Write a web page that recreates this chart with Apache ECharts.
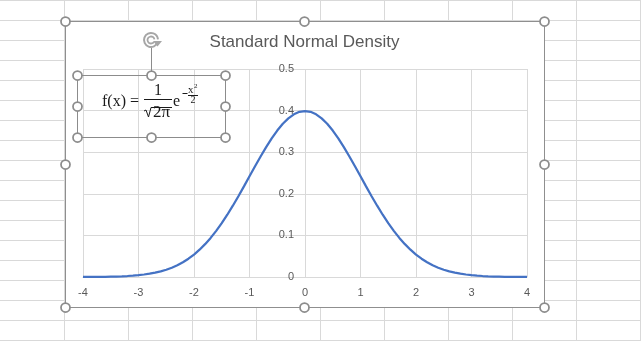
<!DOCTYPE html>
<html>
<head>
<meta charset="utf-8">
<script src="https://cdn.jsdelivr.net/npm/echarts@6/dist/echarts.min.js"></script>
<style>
html, body { margin: 0; padding: 0; background: #ffffff; }
#chart { width: 641px; height: 341px; }
</style>
</head>
<body>
<div id="chart"></div>
<script>
// x positions of the plotted points
const xValues = [
  -4.0, -3.9, -3.8, -3.7, -3.6, -3.5, -3.4, -3.3, -3.2, -3.1,
  -3.0, -2.9, -2.8, -2.7, -2.6, -2.5, -2.4, -2.3, -2.2, -2.1,
  -2.0, -1.9, -1.8, -1.7, -1.6, -1.5, -1.4, -1.3, -1.2, -1.1,
  -1.0, -0.9, -0.8, -0.7, -0.6, -0.5, -0.4, -0.3, -0.2, -0.1,
   0.0,
   0.1,  0.2,  0.3,  0.4,  0.5,  0.6,  0.7,  0.8,  0.9,  1.0,
   1.1,  1.2,  1.3,  1.4,  1.5,  1.6,  1.7,  1.8,  1.9,  2.0,
   2.1,  2.2,  2.3,  2.4,  2.5,  2.6,  2.7,  2.8,  2.9,  3.0,
   3.1,  3.2,  3.3,  3.4,  3.5,  3.6,  3.7,  3.8,  3.9,  4.0
];

// density values at each x
const density = [
  0.0001, 0.0002, 0.0003, 0.0004, 0.0006, 0.0009, 0.0012, 0.0017, 0.0024, 0.0033,
  0.0044, 0.0060, 0.0079, 0.0104, 0.0136, 0.0175, 0.0224, 0.0283, 0.0355, 0.0440,
  0.0540, 0.0656, 0.0790, 0.0940, 0.1109, 0.1295, 0.1497, 0.1714, 0.1942, 0.2179,
  0.2420, 0.2661, 0.2897, 0.3123, 0.3332, 0.3521, 0.3683, 0.3814, 0.3910, 0.3970,
  0.3989,
  0.3970, 0.3910, 0.3814, 0.3683, 0.3521, 0.3332, 0.3123, 0.2897, 0.2661, 0.2420,
  0.2179, 0.1942, 0.1714, 0.1497, 0.1295, 0.1109, 0.0940, 0.0790, 0.0656, 0.0540,
  0.0440, 0.0355, 0.0283, 0.0224, 0.0175, 0.0136, 0.0104, 0.0079, 0.0060, 0.0044,
  0.0033, 0.0024, 0.0017, 0.0012, 0.0009, 0.0006, 0.0004, 0.0003, 0.0002, 0.0001
];

const chartTitle = 'Standard Normal Density';
const xRange = [-4, 4];
const yRange = [0, 0.5];

const seriesData = xValues.map((x, i) => [x, density[i]]);

const W = 641, H = 341;
const plot = { left: 83, top: 69, width: 444, height: 208 };
// the vertical axis sits where x = 0
const yAxisShift = -plot.width * (0 - xRange[0]) / (xRange[1] - xRange[0]);

const sheetLine = '#d9d9d9';
const handleStroke = '#8c8c8c';
const eqColor = '#1a1a1a';
const eqFont = '"Liberation Serif", "DejaVu Serif", serif';

const graphics = [];

// worksheet cell grid behind the chart
for (let x = 64.5; x < W; x += 64) {
  graphics.push({ type: 'line', z: -20, silent: true,
    shape: { x1: x, y1: 0, x2: x, y2: H }, style: { stroke: sheetLine, lineWidth: 1 } });
}
for (let y = 0.5; y < H; y += 20) {
  graphics.push({ type: 'line', z: -20, silent: true,
    shape: { x1: 0, y1: y, x2: W, y2: y }, style: { stroke: sheetLine, lineWidth: 1 } });
}

// chart area with its frame
graphics.push({ type: 'rect', z: -10, silent: true,
  shape: { x: 65.5, y: 21.5, width: 479, height: 286 },
  style: { fill: '#ffffff', stroke: '#8f8f8f', lineWidth: 1 } });

// chart title
graphics.push({ type: 'text', z: 5, silent: true, x: 304.5, y: 42,
  style: { text: chartTitle, fill: '#595959', font: '17px "Liberation Sans", Arial, sans-serif',
    align: 'center', verticalAlign: 'middle' } });

function handle(cx, cy) {
  graphics.push({ type: 'circle', z: 30, silent: true,
    shape: { cx: cx, cy: cy, r: 4.5 },
    style: { fill: '#ffffff', stroke: handleStroke, lineWidth: 1.75 } });
}

// text box frame
graphics.push({ type: 'rect', z: 20, silent: true,
  shape: { x: 77.5, y: 75.5, width: 148, height: 62 },
  style: { fill: 'transparent', stroke: handleStroke, lineWidth: 1 } });

// rotate stem and icon
graphics.push({ type: 'line', z: 20, silent: true,
  shape: { x1: 151.5, y1: 48, x2: 151.5, y2: 72 }, style: { stroke: handleStroke, lineWidth: 1 } });
graphics.push({ type: 'arc', z: 21, silent: true,
  shape: { cx: 151, cy: 40, r: 7, startAngle: 0.35, endAngle: Math.PI * 2 - 0.1, clockwise: true },
  style: { fill: 'none', stroke: '#a6a6a6', lineWidth: 2 } });
graphics.push({ type: 'arc', z: 21, silent: true,
  shape: { cx: 151, cy: 40, r: 3.5, startAngle: 0.6, endAngle: Math.PI * 2 - 0.2, clockwise: true },
  style: { fill: 'none', stroke: '#a6a6a6', lineWidth: 1.8 } });
graphics.push({ type: 'polygon', z: 21, silent: true,
  shape: { points: [[153, 41], [162, 41], [157.5, 46.5]] },
  style: { fill: '#a6a6a6' } });

// equation: f(x) = 1/sqrt(2 pi) e^(-x^2/2)
graphics.push({ type: 'text', z: 25, silent: true, x: 102, y: 102,
  style: { text: 'f(x) =', fill: eqColor, font: '16px ' + eqFont, align: 'left', verticalAlign: 'middle' } });
graphics.push({ type: 'text', z: 25, silent: true, x: 158, y: 91,
  style: { text: '1', fill: eqColor, font: '16px ' + eqFont, align: 'center', verticalAlign: 'middle' } });
graphics.push({ type: 'line', z: 25, silent: true,
  shape: { x1: 144, y1: 99.5, x2: 172, y2: 99.5 }, style: { stroke: eqColor, lineWidth: 1 } });
graphics.push({ type: 'polyline', z: 25, silent: true,
  shape: { points: [[144, 111], [146, 110], [148.5, 117], [151, 107.5], [172, 107.5]] },
  style: { fill: 'none', stroke: eqColor, lineWidth: 1 } });
graphics.push({ type: 'text', z: 25, silent: true, x: 161.5, y: 112.5,
  style: { text: '2π', fill: eqColor, font: '17px ' + eqFont, align: 'center', verticalAlign: 'middle' } });
graphics.push({ type: 'text', z: 25, silent: true, x: 173, y: 102,
  style: { text: 'e', fill: eqColor, font: '16px ' + eqFont, align: 'left', verticalAlign: 'middle' } });
graphics.push({ type: 'line', z: 25, silent: true,
  shape: { x1: 182.5, y1: 93.5, x2: 187.5, y2: 93.5 }, style: { stroke: eqColor, lineWidth: 1 } });
graphics.push({ type: 'text', z: 25, silent: true, x: 188, y: 90,
  style: { text: 'x', fill: eqColor, font: '11px ' + eqFont, align: 'left', verticalAlign: 'middle' } });
graphics.push({ type: 'text', z: 25, silent: true, x: 194, y: 86.5,
  style: { text: '2', fill: eqColor, font: '7px ' + eqFont, align: 'left', verticalAlign: 'middle' } });
graphics.push({ type: 'line', z: 25, silent: true,
  shape: { x1: 188, y1: 95.5, x2: 198, y2: 95.5 }, style: { stroke: eqColor, lineWidth: 1 } });
graphics.push({ type: 'text', z: 25, silent: true, x: 193, y: 100.5,
  style: { text: '2', fill: eqColor, font: '10px ' + eqFont, align: 'center', verticalAlign: 'middle' } });

// selection handles: chart area, then text box
[[65.5, 21.5], [304.5, 21.5], [544.5, 21.5], [65.5, 164.5], [544.5, 164.5],
 [65.5, 307.5], [304.5, 307.5], [544.5, 307.5]].forEach(p => handle(p[0], p[1]));
[[77.5, 75.5], [151.5, 75.5], [225.5, 75.5], [77.5, 106.5], [225.5, 106.5],
 [77.5, 137.5], [151.5, 137.5], [225.5, 137.5]].forEach(p => handle(p[0], p[1]));

const axisLabelStyle = { color: '#595959', fontSize: 11, fontFamily: '"Liberation Sans", Arial, sans-serif' };

const chart = echarts.init(document.getElementById('chart'), null, { renderer: 'canvas' });
chart.setOption({
  animation: false,
  backgroundColor: '#ffffff',
  grid: {
    left: plot.left, top: plot.top,
    right: W - plot.left - plot.width, bottom: H - plot.top - plot.height,
    outerBoundsMode: 'none'
  },
  xAxis: {
    type: 'value', min: xRange[0], max: xRange[1], interval: 1,
    axisLine: { show: true, onZero: true, lineStyle: { color: '#d9d9d9' } },
    axisTick: { show: false },
    axisLabel: Object.assign({ margin: 10 }, axisLabelStyle),
    splitLine: { show: true, lineStyle: { color: '#d9d9d9' } }
  },
  yAxis: {
    type: 'value', min: yRange[0], max: yRange[1], interval: 0.1,
    position: 'left',
    offset: yAxisShift,
    axisLine: { show: false, onZero: false },
    axisTick: { show: false },
    axisLabel: Object.assign({ margin: 11 }, axisLabelStyle),
    splitLine: { show: true, lineStyle: { color: '#d9d9d9' } }
  },
  series: [{
    type: 'line',
    data: seriesData,
    showSymbol: false,
    smooth: false,
    lineStyle: { color: '#4472c4', width: 2.25 },
    z: 3
  }],
  graphic: { elements: graphics }
});
</script>
</body>
</html>
